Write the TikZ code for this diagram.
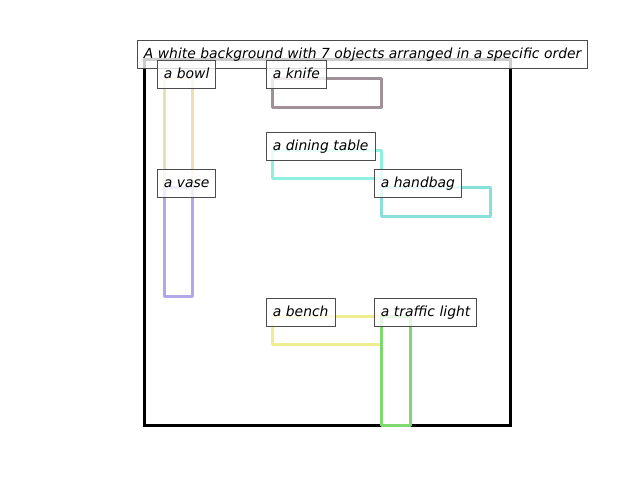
\documentclass[tikz,border=0pt]{standalone}
\usepackage{fontspec}
\setmainfont{DejaVu Sans}
\begin{document}
\begin{tikzpicture}[x=1pt,y=-1pt]
\tikzset{
  objbox/.style={line width=3pt, line join=round},
  lbl/.style={draw=black!70, line width=0.9pt, fill=white, fill opacity=0.8, text opacity=1,
    anchor=north west, inner xsep=6.5pt, inner ysep=0pt, text height=18pt, text depth=10pt,
    font=\fontsize{13.9}{16}\selectfont\itshape}}
\definecolor{cbowl}{HTML}{EEDFB0}
\definecolor{cknife}{HTML}{A09098}
\definecolor{cdining}{HTML}{90F0E0}
\definecolor{chandbag}{HTML}{88E0D8}
\definecolor{cvase}{HTML}{B0A8E8}
\definecolor{cbench}{HTML}{EEEE90}
\definecolor{ctraffic}{HTML}{80D870}
\useasboundingbox (0,0) rectangle (640,480);
\draw[line width=3pt] (144,59) rectangle (510,425);
\draw[objbox, draw=cbowl] (164,78) rectangle (192,187);
\draw[objbox, draw=cknife] (272,78) rectangle (381,107);
\draw[objbox, draw=cdining] (272,150) rectangle (381,178);
\draw[objbox, draw=chandbag] (381,187) rectangle (490,216);
\draw[objbox, draw=cvase] (164,187) rectangle (192,296);
\draw[objbox, draw=cbench] (272,316) rectangle (381,344);
\draw[objbox, draw=ctraffic] (381,316) rectangle (410,425);
\node[lbl] (title) at (137,40) {A white background with 7 objects arranged in a specific order};
\node[lbl] (bowl) at (157,60) {a bowl};
\node[lbl] (knife) at (266,60) {a knife};
\node[lbl] (dining) at (266,132) {a dining table};
\node[lbl] (vase) at (157,169) {a vase};
\node[lbl] (handbag) at (374,169) {a handbag};
\node[lbl] (bench) at (266,298) {a bench};
\node[lbl] (traffic) at (374,298) {a traffic light};
\end{tikzpicture}
\end{document}
